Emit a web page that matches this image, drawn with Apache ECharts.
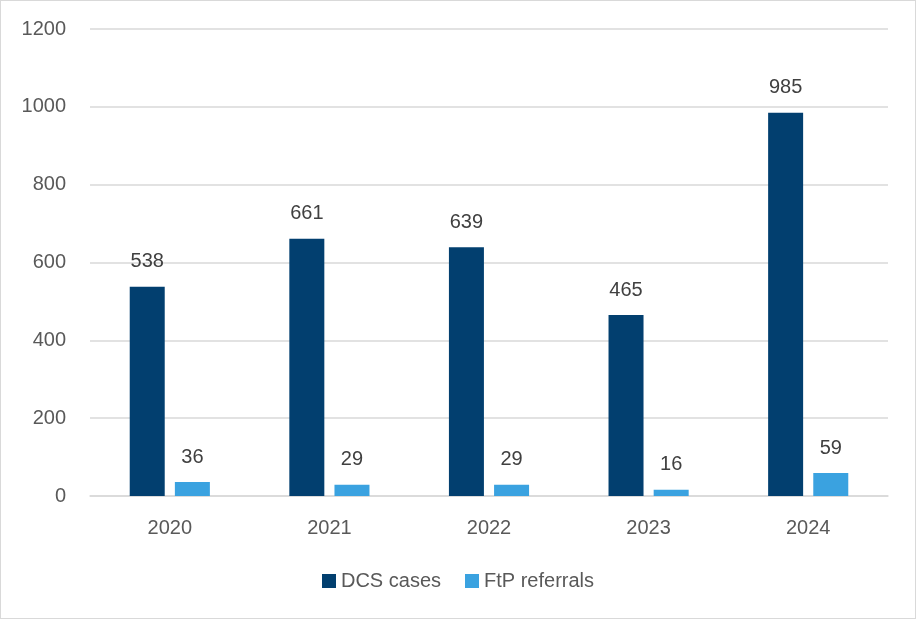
<!DOCTYPE html>
<html><head><meta charset="utf-8">
<script src="https://cdn.jsdelivr.net/npm/echarts@6/dist/echarts.min.js"></script>
<style>html,body{margin:0;padding:0;background:#fff}#c{width:916px;height:619px;box-sizing:border-box;border:1px solid #d9d9d9}</style>
</head><body><div id="c"></div>
<script>
const categories = ['2020','2021','2022','2023','2024'];
const dcsCases = [538, 661, 639, 465, 985];
const ftpReferrals = [36, 29, 29, 16, 59];
const yTicks = [0, 200, 400, 600, 800, 1000, 1200];

const font = 'Liberation Sans, Arial, sans-serif';
const txt = '#595959';
const chart = echarts.init(document.getElementById('c'));
chart.setOption({
  animation: false,
  grid: {left: 89, right: 27, top: 28, bottom: 122, containLabel: false},
  legend: {
    bottom: 22, left: 'center', itemWidth: 14, itemHeight: 14, itemGap: 24,
    icon: 'rect',
    textStyle: {color: txt, fontSize: 20, fontFamily: font, padding: [0,0,0,0]},
    data: ['DCS cases', 'FtP referrals']
  },
  xAxis: {
    type: 'category', data: categories,
    axisLine: {show: true, lineStyle: {color: '#d9d9d9', width: 1.5}},
    axisTick: {show: false},
    axisLabel: {color: txt, fontSize: 20, fontFamily: font, margin: 22}
  },
  yAxis: {
    type: 'value', min: yTicks[0], max: yTicks[yTicks.length-1], interval: 200,
    axisLine: {show: false}, axisTick: {show: false},
    splitLine: {lineStyle: {color: '#d9d9d9', width: 1.5}},
    axisLabel: {color: txt, fontSize: 20, fontFamily: font, margin: 24, formatter: v => String(v)}
  },
  series: [
    {name: 'DCS cases', type: 'bar', data: dcsCases, barWidth: 35, barGap: '29%',
     itemStyle: {color: '#023F6F'},
     label: {show: true, position: 'top', distance: 15, color: '#404040', fontSize: 20, fontFamily: font}},
    {name: 'FtP referrals', type: 'bar', data: ftpReferrals, barWidth: 35,
     itemStyle: {color: '#3AA2E0'},
     label: {show: true, position: 'top', distance: 15, color: '#404040', fontSize: 20, fontFamily: font}}
  ]
});
</script></body></html>
